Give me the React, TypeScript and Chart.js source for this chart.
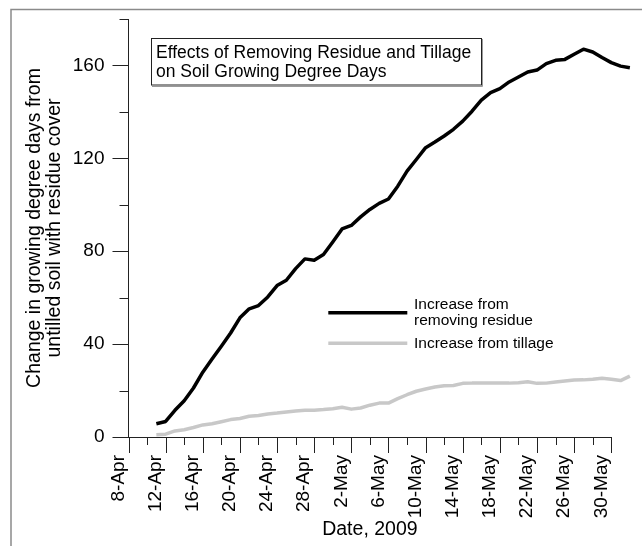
import React, { useEffect, useRef } from 'react';
import { Chart, registerables } from 'chart.js';

Chart.register(...registerables);

const FONT = '"Liberation Sans", Arial, sans-serif';

// Daily dates of the measurements
const dates = [
  '11-Apr', '12-Apr', '13-Apr', '14-Apr', '15-Apr', '16-Apr', '17-Apr', '18-Apr', '19-Apr', '20-Apr',
  '21-Apr', '22-Apr', '23-Apr', '24-Apr', '25-Apr', '26-Apr', '27-Apr', '28-Apr', '29-Apr', '30-Apr',
  '1-May', '2-May', '3-May', '4-May', '5-May', '6-May', '7-May', '8-May', '9-May', '10-May',
  '11-May', '12-May', '13-May', '14-May', '15-May', '16-May', '17-May', '18-May', '19-May', '20-May',
  '21-May', '22-May', '23-May', '24-May', '25-May', '26-May', '27-May', '28-May', '29-May', '30-May',
  '31-May', '1-Jun',
];

// Increase from removing residue
const residueIncrease = [
  5.7, 6.7, 11.5, 15.6, 21.1, 27.9, 33.6, 39.1, 44.8, 51.3,
  55.2, 56.6, 60.3, 65.2, 67.5, 72.5, 76.7, 76.1, 78.6, 84.0,
  89.6, 91.1, 94.8, 98.0, 100.6, 102.5, 108.0, 114.5, 119.5, 124.6,
  127.0, 129.6, 132.5, 136.0, 140.3, 145.1, 148.3, 150.0, 152.9, 155.0,
  157.2, 158.0, 160.8, 162.2, 162.6, 164.8, 167.0, 165.8, 163.4, 161.2,
  159.7, 159.0,
];

// Increase from tillage
const tillageIncrease = [
  1.0, 1.2, 2.6, 3.1, 4.1, 5.2, 5.7, 6.6, 7.5, 8.0,
  8.9, 9.3, 9.9, 10.3, 10.8, 11.2, 11.5, 11.5, 11.8, 12.2,
  12.8, 12.0, 12.5, 13.7, 14.6, 14.6, 16.5, 18.2, 19.7, 20.7,
  21.5, 22.1, 22.2, 23.1, 23.2, 23.2, 23.2, 23.2, 23.2, 23.4,
  23.8, 23.1, 23.2, 23.7, 24.1, 24.5, 24.6, 24.9, 25.3, 24.9,
  24.3, 26.2,
];

const xTickLabels = [
  '8-Apr', '12-Apr', '16-Apr', '20-Apr', '24-Apr', '28-Apr', '2-May',
  '6-May', '10-May', '14-May', '18-May', '22-May', '26-May', '30-May',
];
const yTickLabels = ['0', '40', '80', '120', '160'];
const seriesNames = ['Increase from\nremoving residue', 'Increase from tillage'];
const chartTitle = ['Effects of Removing Residue and Tillage', 'on Soil Growing Degree Days'];
const yAxisTitle = ['Change in growing degree days from', 'untilled soil with residue cover'];
const xAxisTitle = 'Date, 2009';

const MONTH_BASE: Record<string, number> = { Apr: -8, May: 22, Jun: 53 };
function dayIndex(label: string): number {
  const [d, m] = label.split('-');
  return Number(d) + MONTH_BASE[m];
}

const axisStart = dayIndex(xTickLabels[0]);
const axisEnd = dayIndex(xTickLabels[xTickLabels.length - 1]);

const decorPlugin = {
  id: 'decor',
  beforeDraw(chart: any) {
    const ctx = chart.ctx;
    ctx.save();
    ctx.fillStyle = '#ffffff';
    ctx.fillRect(0, 0, chart.width, chart.height);
    // outer frame
    ctx.strokeStyle = '#8a8a8a';
    ctx.lineWidth = 1.5;
    ctx.beginPath();
    ctx.moveTo(11, chart.height + 5);
    ctx.lineTo(11, 9.5);
    ctx.lineTo(chart.width + 5, 9.5);
    ctx.stroke();
    ctx.restore();
  },
  afterDraw(chart: any) {
    const ctx = chart.ctx;
    const xs = chart.scales.x;
    const ys = chart.scales.y;
    ctx.save();
    // tick marks
    ctx.strokeStyle = '#222';
    ctx.lineWidth = 1;
    ctx.beginPath();
    xs.ticks.forEach((t: any) => {
      const px = Math.round(xs.getPixelForValue(t.value)) + 0.5;
      const isMajor = (t.value - axisStart) % 4 === 0;
      ctx.moveTo(px, xs.top);
      ctx.lineTo(px, xs.top + (isMajor ? 16 : 8));
    });
    ys.ticks.forEach((t: any) => {
      const py = Math.round(ys.getPixelForValue(t.value)) + 0.5;
      const isMajor = t.value % 40 === 0;
      ctx.moveTo(ys.right, py);
      ctx.lineTo(ys.right - (isMajor ? 16 : 9), py);
    });
    ctx.stroke();

    // title box
    ctx.strokeStyle = '#222';
    ctx.lineWidth = 1;
    ctx.strokeRect(151.5, 38.5, 330, 46.5);
    ctx.strokeStyle = '#9a9a9a';
    ctx.beginPath();
    ctx.moveTo(152, 86.5);
    ctx.lineTo(482.5, 86.5);
    ctx.lineTo(482.5, 39);
    ctx.stroke();
    ctx.fillStyle = '#000';
    ctx.font = `17.5px ${FONT}`;
    ctx.textBaseline = 'alphabetic';
    ctx.textAlign = 'left';
    chartTitle.forEach((line, i) => ctx.fillText(line, 156, 58.3 + i * 19));

    // legend
    const legendY = [312.7, 343.3];
    chart.data.datasets.forEach((ds: any, i: number) => {
      const y = legendY[i];
      ctx.strokeStyle = ds.borderColor;
      ctx.lineWidth = ds.borderWidth;
      ctx.beginPath();
      ctx.moveTo(328.3, y);
      ctx.lineTo(407.3, y);
      ctx.stroke();
      const lines = String(ds.label).split('\n');
      ctx.fillStyle = '#000';
      ctx.font = `15.5px ${FONT}`;
      ctx.textBaseline = 'middle';
      const lh = 15.7;
      const first = y - ((lines.length - 1) * lh) / 2;
      lines.forEach((ln, k) => ctx.fillText(ln, 414, first + k * lh));
    });
    ctx.restore();
  },
};

export default function App() {
  const ref = useRef<HTMLCanvasElement>(null);
  useEffect(() => {
    if (!ref.current) return;
    const chart = new Chart(ref.current, {
      type: 'line',
      data: {
        datasets: [
          {
            label: seriesNames[0],
            data: dates.map((d, i) => ({ x: dayIndex(d), y: residueIncrease[i] })),
            borderColor: '#000000',
            borderWidth: 3.5,
            clip: false as any,
          },
          {
            label: seriesNames[1],
            data: dates.map((d, i) => ({ x: dayIndex(d), y: tillageIncrease[i] })),
            borderColor: '#c8c8c8',
            borderWidth: 3.5,
            clip: false as any,
          },
        ],
      },
      options: {
        animation: false,
        responsive: false,
        layout: { padding: { left: 0, top: 19, right: 30.7, bottom: 0 } },
        plugins: { legend: { display: false }, tooltip: { enabled: false } },
        elements: {
          point: { radius: 0 },
          line: { tension: 0, borderJoinStyle: 'round' },
        },
        scales: {
          x: {
            type: 'linear',
            afterDataLimits: (s: any) => {
              s.min = axisStart;
              s.max = axisEnd;
            },
            afterFit: (s: any) => {
              s.height = 109;
              s.paddingLeft = 0;
              s.paddingRight = 0;
              s.paddingTop = 0;
              s.paddingBottom = 0;
            },
            grid: { display: true, drawOnChartArea: false, drawTicks: false },
            border: { display: true, color: '#222', width: 1 },
            ticks: {
              stepSize: 2,
              autoSkip: false,
              maxRotation: 90,
              minRotation: 90,
              padding: 18,
              labelOffset: -10,
              color: '#000',
              font: { family: FONT, size: 19 },
              callback: (v: any) => {
                const found = xTickLabels.find((l) => dayIndex(l) === Number(v));
                return found ?? '';
              },
            },
            title: {
              display: true,
              text: xAxisTitle,
              color: '#000',
              font: { family: FONT, size: 19.5 },
              padding: { top: 0, bottom: 5 },
            },
          },
          y: {
            min: 0,
            max: 180,
            afterFit: (s: any) => {
              s.width = 128.5;
              s.paddingLeft = 0;
              s.paddingRight = 0;
              s.paddingTop = 0;
              s.paddingBottom = 0;
            },
            grid: { display: true, drawOnChartArea: false, drawTicks: false },
            border: { display: true, color: '#222', width: 1 },
            ticks: {
              stepSize: 20,
              autoSkip: false,
              padding: 24,
              color: '#000',
              font: { family: FONT, size: 19 },
              callback: (v: any) => (yTickLabels.includes(String(v)) ? String(v) : ''),
            },
            title: {
              display: true,
              text: yAxisTitle,
              color: '#000',
              font: { family: FONT, size: 19.5, lineHeight: '20px' as any },
              padding: { top: 25, bottom: 0 },
            },
          },
        },
      },
      plugins: [decorPlugin],
    });
    return () => chart.destroy();
  }, []);
  return (
    <div style={{ position: 'absolute', left: 0, top: 0, width: 642, height: 546 }}>
      <canvas ref={ref} width={642} height={546} style={{ display: 'block' }} />
    </div>
  );
}
